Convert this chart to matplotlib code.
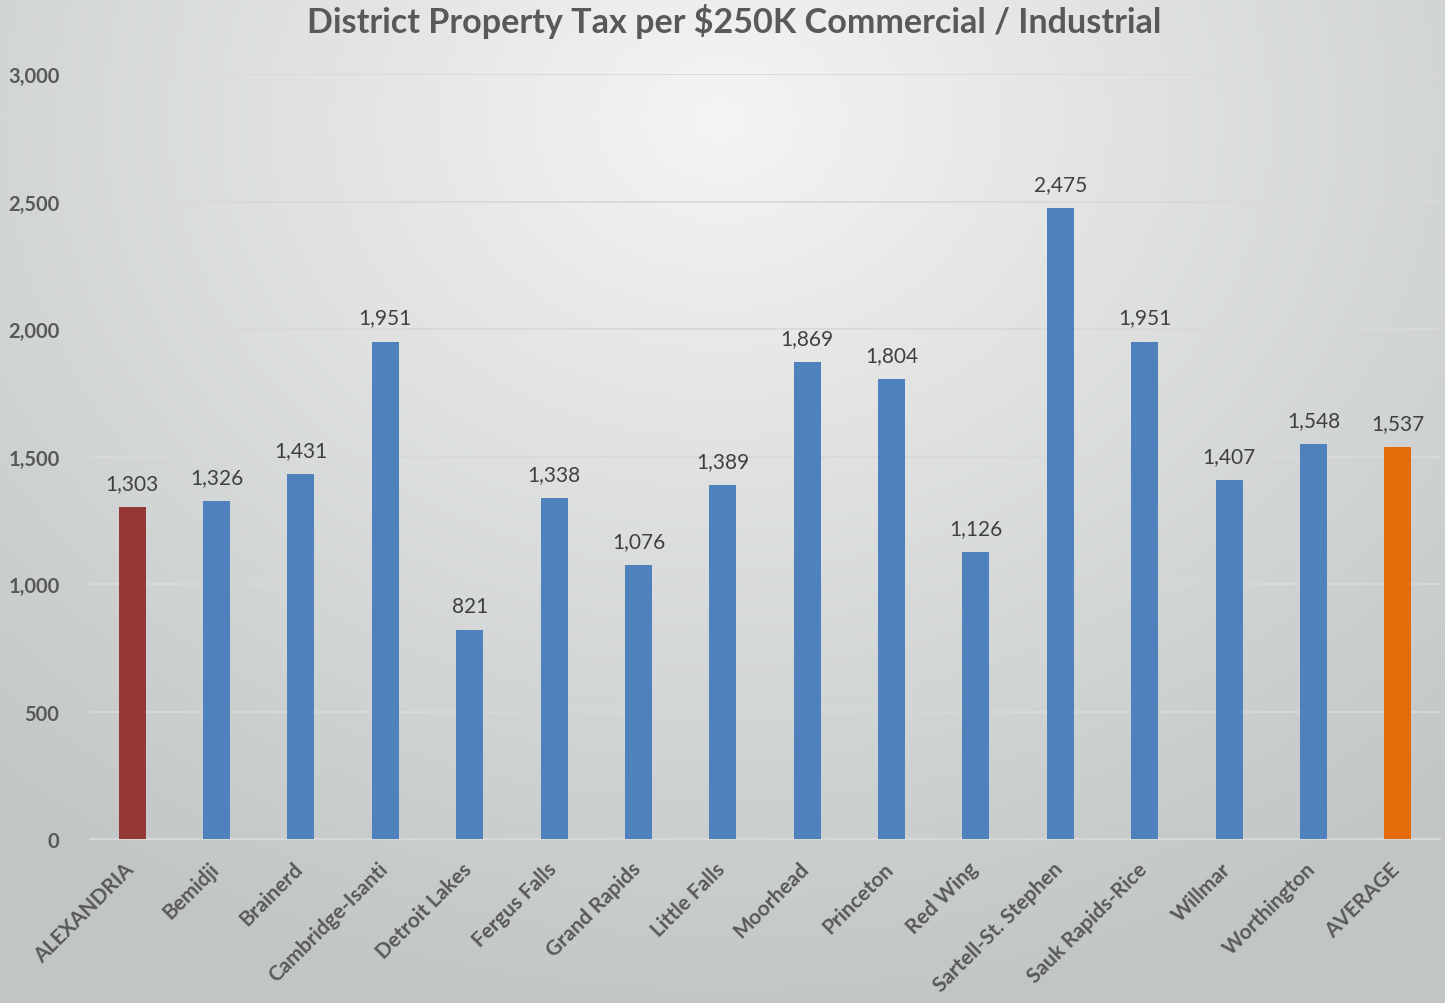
import matplotlib
matplotlib.use("Agg")
import matplotlib.pyplot as plt
import matplotlib.transforms as mtransforms
import numpy as np

districts = ["ALEXANDRIA", "Bemidji", "Brainerd", "Cambridge-Isanti", "Detroit Lakes",
             "Fergus Falls", "Grand Rapids", "Little Falls", "Moorhead", "Princeton",
             "Red Wing", "Sartell-St. Stephen", "Sauk Rapids-Rice", "Willmar",
             "Worthington", "AVERAGE"]
tax = [1303, 1326, 1431, 1951, 821, 1338, 1076, 1389, 1869, 1804, 1126, 2475,
       1951, 1407, 1548, 1537]
yticks = [0, 500, 1000, 1500, 2000, 2500, 3000]

blue = "#4f81bd"
colors = [blue] * len(districts)
colors[0] = "#953735"
colors[-1] = "#e46c0a"

plt.rcParams["font.family"] = ["Lato", "DejaVu Sans"]

fig = plt.figure(figsize=(14.45, 10.04), dpi=100)

# radial grey background, light at the top centre, darker towards the bottom
bg = fig.add_axes([0, 0, 1, 1], zorder=-10)
h, w = 1004, 1445
yy, xx = np.mgrid[0:h, 0:w]
r = np.sqrt(((xx - 720) / 1100.0) ** 2 + ((yy - 120) / 900.0) ** 2)
r = np.clip(r, 0, 1)
light = np.array([0.955, 0.958, 0.958])
dark = np.array([0.76, 0.775, 0.775])
img = light[None, None, :] * (1 - r[..., None]) + dark[None, None, :] * r[..., None]
bg.imshow(img, aspect="auto", extent=[0, 1, 0, 1])
bg.axis("off")

ax = fig.add_axes([0.0623, 0.1633, 0.9342, 0.762])
ax.patch.set_alpha(0)
x = np.arange(len(districts))
bars = ax.bar(x, tax, width=0.32, color=colors, zorder=3)

for xi, v in zip(x, tax):
    ax.text(xi, v + 55, f"{v:,}", ha="center", va="bottom", fontsize=15,
            color="#404040")

ax.set_xlim(-0.5, len(districts) - 0.5)
ax.set_ylim(0, 3000)
ax.set_yticks(yticks)
ax.set_yticklabels([f"{t:,}" for t in yticks], fontsize=14.5, fontweight="bold",
                   color="#595959")
ax.set_xticks(x)
ax.set_xticklabels(districts, rotation=45, ha="right", rotation_mode="anchor",
                   fontsize=15, fontweight="bold", color="#595959")
ax.tick_params(axis="both", length=0)
ax.tick_params(axis="y", pad=22)
ax.tick_params(axis="x", pad=14)
# nudge the slanted category labels a little to the left
shift = mtransforms.ScaledTranslation(-8 / 100, 0, fig.dpi_scale_trans)
for lbl in ax.get_xticklabels():
    lbl.set_transform(lbl.get_transform() + shift)

ax.grid(axis="y", color="#d9d9d9", linewidth=1.3, zorder=0)
for s in ["top", "right", "left"]:
    ax.spines[s].set_visible(False)
ax.spines["bottom"].set_color("#d9d9d9")
ax.spines["bottom"].set_linewidth(1.3)

fig.text(0.508, 0.979, "District Property Tax per $250K Commercial / Industrial",
         ha="center", va="center", fontsize=24.6, fontweight="bold", color="#595959")

fig.savefig("out.png", dpi=100)
